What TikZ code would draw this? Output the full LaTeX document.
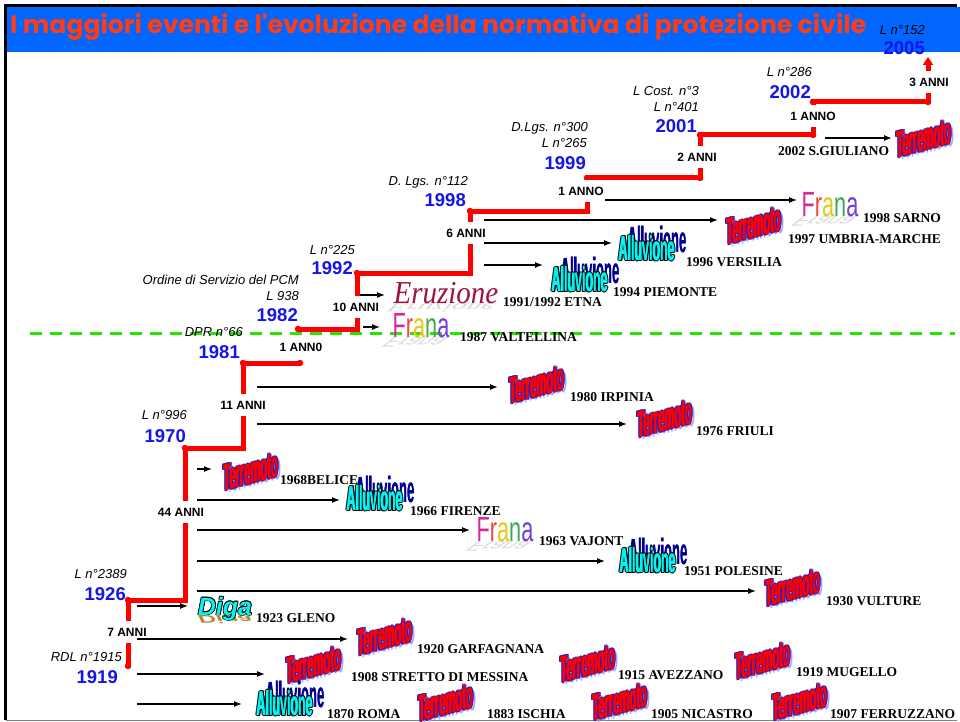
\documentclass[tikz,border=0pt]{standalone}
\usepackage{fontspec}
\setmainfont{Liberation Serif}
\setsansfont{Liberation Sans}
\newfontfamily\titlefont{Poppins}
\usetikzlibrary{arrows.meta}
\definecolor{barblue}{RGB}{0,102,255}
\definecolor{titlered}{RGB}{255,60,20}
\definecolor{yearblue}{RGB}{20,20,235}
\definecolor{dashgreen}{RGB}{40,230,0}
\definecolor{terrblue}{RGB}{30,30,200}
\definecolor{terrshadow}{RGB}{165,165,255}
\definecolor{allucyan}{RGB}{0,245,245}
\definecolor{allunavy}{RGB}{0,0,150}
\definecolor{eruzred}{RGB}{160,16,64}
\definecolor{digagold}{RGB}{185,135,55}
\definecolor{frF}{RGB}{214,40,160}
\definecolor{frR}{RGB}{240,70,60}
\definecolor{frA}{RGB}{230,200,30}
\definecolor{frN}{RGB}{60,170,80}
\definecolor{frV}{RGB}{120,60,220}

\newcommand\terrword{\scalebox{0.33}[1.12]{\sffamily\bfseries\fontsize{34}{34}\selectfont Terremoto}}
\newcommand\alluword{\scalebox{0.40}[1.12]{\sffamily\bfseries\fontsize{31}{31}\selectfont Alluvione}}
\newcommand\franacol{{\color{frF}F}{\color{frR}r}{\color{frA}a}{\color{frN}n}{\color{frV}a}}
\newcommand\franaword[1]{\scalebox{0.62}[1]{\sffamily\fontsize{35}{35}\selectfont #1}}
\newcommand\eruzword{\scalebox{1}[1.1]{\rmfamily\itshape\fontsize{29}{29}\selectfont Eruzione}}
\newcommand\digaword{\sffamily\bfseries\itshape\fontsize{25}{25}\selectfont Diga}

\newcommand\TerrArt[3]{%
\begin{scope}[shift={(#2,#3)},yslant=0.27]
\node[wa,text=terrshadow] (#1s) at (3,3) {\terrword};
\foreach \dx/\dy [count=\k] in {1.4/0,-1.4/0,0/1,0/-1,1/0.8,-1/-0.8,1/-0.8,-1/0.8}
 {\node[wa,text=terrblue] (#1o\k) at (\dx,\dy) {\terrword};}
\node[wa,text=red] (#1l) at (-0.4,0) {\terrword};
\node[wa,text=red] (#1r) at (0.4,0) {\terrword};
\node[wa,text=red] (#1) at (0,0) {\terrword};
\end{scope}}

\newcommand\AlluArt[3]{%
\begin{scope}[shift={(#2,#3)}]
\node[wa,text=allunavy] (#1b) at (5,-4) {\scalebox{1.05}{\alluword}};
\node[wa,text=allunavy] (#1c) at (5.5,-4) {\scalebox{1.05}{\alluword}};
\begin{scope}[shift={(-5,5)}]
\foreach \dx/\dy [count=\k] in {1.2/0,-1.2/0,0/0.9,0/-0.9,0.9/0.7,-0.9/-0.7,0.9/-0.7,-0.9/0.7}
 {\node[wa,text=black] (#1o\k) at (\dx,\dy) {\alluword};}
\node[wa,text=allucyan] (#1l) at (-0.35,0) {\alluword};
\node[wa,text=allucyan] (#1) at (0.35,0) {\alluword};
\end{scope}
\end{scope}}

\newcommand\FranaArt[3]{%
\begin{scope}[shift={(#2,#3)}]
\begin{scope}[shift={(0,12.5)},xslant=1.3,yscale=-0.4]
\node[wa,anchor=base,text=gray!30] (#1s) at (0,0) {\franaword{Frana}};
\end{scope}
\node[wa,anchor=base] (#1) at (0,12.5) {\franaword{\franacol}};
\end{scope}}

\newcommand\EruzArt[3]{%
\begin{scope}[shift={(#2,#3)}]
\begin{scope}[shift={(0,10)},xslant=1.3,yscale=-0.4]
\node[wa,anchor=base,text=gray!30] (#1s) at (0,0) {\eruzword};
\end{scope}
\node[wa,anchor=base,text=eruzred] (#1) at (0,10) {\eruzword};
\end{scope}}

\newcommand\DigaArt[3]{%
\begin{scope}[shift={(#2,#3)}]
\begin{scope}[shift={(0,9)},yscale=-0.45]
\node[wa,anchor=base,text=digagold] (#1s) at (0,0) {\digaword};
\end{scope}
\begin{scope}[shift={(0,9)}]
\foreach \dx/\dy [count=\k] in {0.8/0,-0.8/0,0/0.8,0/-0.8,0.6/0.6,-0.6/-0.6,0.6/-0.6,-0.6/0.6}
 {\node[wa,anchor=base,text=black] (#1o\k) at (\dx,\dy) {\digaword};}
\node[wa,anchor=base,text=allucyan] (#1) at (0,0) {\digaword};
\end{scope}
\end{scope}}

\tikzset{
 wa/.style={inner sep=0pt, transform shape},
 year/.style={font=\sffamily\bfseries\fontsize{18.5}{19}\selectfont, text=yearblue, anchor=east, inner sep=0pt},
 law/.style={font=\sffamily\itshape\fontsize{13}{14}\selectfont, anchor=east, inner sep=0pt, text height=9.3pt, text depth=0pt},
 anni/.style={font=\sffamily\bfseries\fontsize{12}{13}\selectfont, fill=white, inner xsep=1pt, inner ysep=7pt},
 evt/.style={font=\rmfamily\bfseries\fontsize{13.5}{14}\selectfont, anchor=west, inner sep=0pt, text height=9.2pt, text depth=0pt},
 stair/.style={red, line width=5pt, line join=miter},
 sdot/.style={red, fill=red, circle, inner sep=0pt, minimum size=6.5pt},
 evarrow/.style={-{Latex[length=8pt,width=6pt]}, line width=1.2pt},
}

\begin{document}
\begin{tikzpicture}[x=1pt,y=-1pt]
\useasboundingbox (0,0) rectangle (960,722);
\fill[white] (0,0) rectangle (960,722);

% frame and title bar
\fill[barblue] (7,7) rectangle (960,52);
\draw[line width=2.5pt] (5.5,720) -- (5.5,5.5) -- (957,5.5);
\draw[gray, line width=1.5pt] (5.5,720.5) -- (957,720.5);
\node[anchor=base west, inner sep=0pt, text=titlered] (title) at (10,34)
 {\resizebox{856pt}{20pt}{\titlefont\bfseries I maggiori eventi e l'evoluzione della normativa di protezione civile}};

% green separator
\coordinate (g1) at (30,333);
\coordinate (g2) at (955,333);
\draw[dashgreen, line width=3pt, dash pattern=on 12pt off 8pt] (g1) -- (g2);

% staircase coordinates
\coordinate (p1) at (128,666);
\coordinate (p2) at (128,600);
\coordinate (p3) at (185,600);
\coordinate (p4) at (185,448);
\coordinate (p5) at (243,448);
\coordinate (p6) at (243,363);
\coordinate (p7) at (300,363);
\coordinate (q1) at (298,329);
\coordinate (q2) at (357,329);
\coordinate (q3) at (357,273);
\coordinate (q4) at (470,273);
\coordinate (q5) at (470,211);
\coordinate (q6) at (587,211);
\coordinate (q7) at (587,178);
\coordinate (q8) at (700,178);
\coordinate (q9) at (700,135);
\coordinate (q10) at (813,135);
\coordinate (q11) at (813,102);
\coordinate (q12) at (928,102);
\coordinate (q13) at (928,57);
\draw[stair] (p1) -- (p2) -- (p3) -- (p4) -- (p5) -- (p6) -- (p7);
\draw[stair] (q1) -- (q2) -- (q3) -- (q4) -- (q5) -- (q6) -- (q7) -- (q8) -- (q9) -- (q10) -- (q11) -- (q12);
\draw[stair, -{Triangle[length=8pt,width=10pt]}] (q12) -- (q13);
\foreach \pt in {p1,p2,p4,p5,p6,p7,q1,q2,q3,q4,q5,q6,q7,q8,q9,q10,q11,q12}
 {\node[sdot] (d\pt) at (\pt) {};}

% interval labels
\node[anni] (n7) at (127,632) {7 ANNI};
\node[anni] (n44) at (181,512) {44 ANNI};
\node[anni] (n11) at (243,405) {11 ANNI};
\node[anni, fill=none, inner ysep=1pt] (n1a) at (301,347) {1 ANN0};
\node[anni] (n10) at (356,307) {10 ANNI};
\node[anni] (n6) at (466,233) {6 ANNI};
\node[anni] (n1b) at (581,191) {1 ANNO};
\node[anni] (n2) at (697,157) {2 ANNI};
\node[anni] (n1c) at (813,116) {1 ANNO};
\node[anni] (n3) at (929,82) {3 ANNI};

% years and laws
\node[year] (y1919) at (118,677) {1919};
\node[law] (l1919) at (122,657) {RDL n°1915};
\node[year] (y1926) at (126,594) {1926};
\node[law] (l1926) at (127,574) {L n°2389};
\node[year] (y1970) at (186,436) {1970};
\node[law] (l1970) at (187,415) {L n°996};
\node[year] (y1981) at (240,352) {1981};
\node[law] (l1981) at (243,332) {DPR n°66};
\node[year] (y1982) at (298,315) {1982};
\node[law] (l1982a) at (299,296) {L 938};
\node[law] (l1982b) at (299,280) {Ordine di Servizio del PCM};
\node[year] (y1992) at (353,268) {1992};
\node[law] (l1992) at (355,250) {L n°225};
\node[year] (y1998) at (466,200) {1998};
\node[law] (l1998) at (468,181) {D. Lgs. n°112};
\node[year] (y1999) at (586,163) {1999};
\node[law] (l1999a) at (587,143) {L n°265};
\node[law] (l1999b) at (588,127) {D.Lgs. n°300};
\node[year] (y2001) at (697,126) {2001};
\node[law] (l2001a) at (699,107) {L n°401};
\node[law] (l2001b) at (699,91) {L Cost. n°3};
\node[year] (y2002) at (811,92) {2002};
\node[law] (l2002) at (812,72) {L n°286};
\node[year] (y2005) at (925,48) {2005};
\node[law] (l2005) at (925,30) {L n°152};

% arrows
\foreach \n/\xa/\xb/\yy in {a01/825/892/138, a02/605/797/200, a03/484/718/220, a04/484/612/243,
  a05/484/543/265, a06/360/385/295, a07/363/380/327, a08/257/498/387, a09/257/627/424,
  a10/197/212/469, a11/197/340/500, a12/197/470/530, a13/197/605/561, a14/197/756/591,
  a15/137/188/606, a16/137/348/639, a17/137/265/674, a18/137/242/704}
 {\coordinate (\n s) at (\xa,\yy); \coordinate (\n e) at (\xb,\yy);
  \draw[evarrow] (\n s) -- (\n e);}

% word art
\TerrArt{t01}{924}{138}
\TerrArt{t02}{754}{225}
\TerrArt{t03}{537}{384}
\TerrArt{t04}{665}{418}
\TerrArt{t05}{251}{471}
\TerrArt{t06}{793}{587}
\TerrArt{t07}{385}{636}
\TerrArt{t08}{314}{664}
\TerrArt{t09}{446}{702}
\TerrArt{t10}{588}{663}
\TerrArt{t11}{763}{660}
\TerrArt{t12}{620}{701}
\TerrArt{t13}{800}{701}
\AlluArt{al1}{652}{243}
\AlluArt{al2}{585}{274}
\AlluArt{al3}{380}{493}
\AlluArt{al4}{653}{555}
\AlluArt{al5}{290}{698}
\FranaArt{fr1}{830}{204}
\FranaArt{fr2}{421}{325}
\FranaArt{fr3}{505}{529}
\EruzArt{er1}{446}{293}
\DigaArt{dg1}{225}{606}

% event labels
\node[evt] (e01) at (863,218) {1998 SARNO};
\node[evt] (e02) at (788,239) {1997 UMBRIA-MARCHE};
\node[evt] (e03) at (686,262) {1996 VERSILIA};
\node[evt] (e04) at (613,292) {1994 PIEMONTE};
\node[evt] (e05) at (503,302) {1991/1992 ETNA};
\node[evt] (e06) at (460,337) {1987 VALTELLINA};
\node[evt] (e07) at (778,151) {2002 S.GIULIANO};
\node[evt] (e08) at (570,397) {1980 IRPINIA};
\node[evt] (e09) at (696,431) {1976 FRIULI};
\node[evt] (e10) at (280,480) {1968BELICE};
\node[evt] (e11) at (410,511) {1966 FIRENZE};
\node[evt] (e12) at (539,541) {1963 VAJONT};
\node[evt] (e13) at (684,571) {1951 POLESINE};
\node[evt] (e14) at (826,601) {1930 VULTURE};
\node[evt] (e15) at (256,618) {1923 GLENO};
\node[evt] (e16) at (417,649) {1920 GARFAGNANA};
\node[evt] (e17) at (351,677) {1908 STRETTO DI MESSINA};
\node[evt] (e18) at (327,714) {1870 ROMA};
\node[evt] (e19) at (487,714) {1883 ISCHIA};
\node[evt] (e20) at (618,675) {1915 AVEZZANO};
\node[evt] (e21) at (796,672) {1919 MUGELLO};
\node[evt] (e22) at (651,714) {1905 NICASTRO};
\node[evt] (e23) at (830,714) {1907 FERRUZZANO};
\end{tikzpicture}
\end{document}
